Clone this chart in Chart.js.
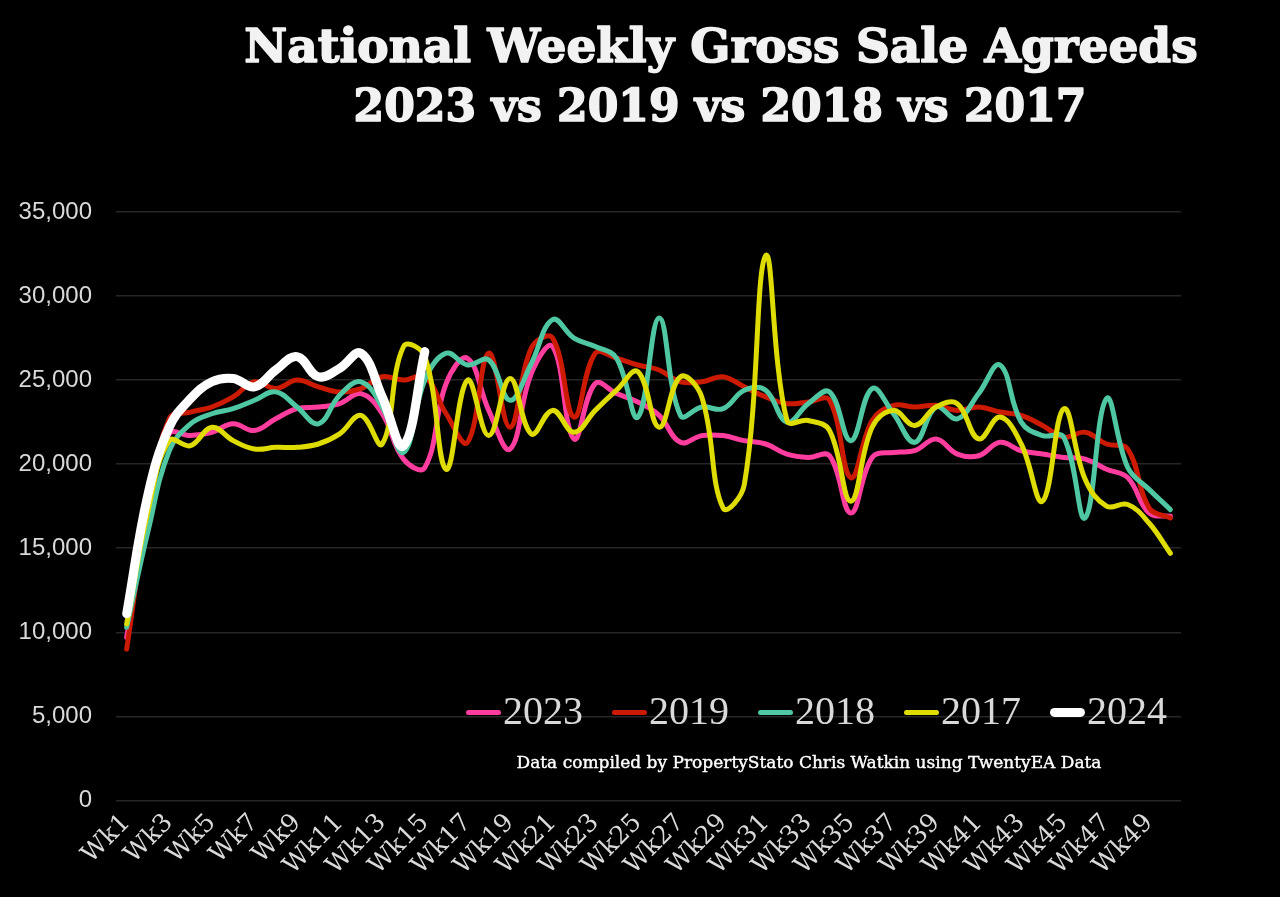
<!DOCTYPE html>
<html>
<head>
<meta charset="utf-8">
<title>National Weekly Gross Sale Agreeds</title>
<script src="https://cdn.jsdelivr.net/npm/chart.js@4.4.1/dist/chart.umd.min.js"></script>
<style>
  html, body { margin: 0; padding: 0; background: #000; }
  #wrap { width: 1280px; height: 897px; position: relative; }
</style>
</head>
<body>
<div id="wrap"><canvas id="sales-chart"></canvas></div>
<script>
// Week labels (x axis)
const weeks = [
  'Wk1','Wk2','Wk3','Wk4','Wk5','Wk6','Wk7','Wk8','Wk9','Wk10',
  'Wk11','Wk12','Wk13','Wk14','Wk15','Wk16','Wk17','Wk18','Wk19','Wk20',
  'Wk21','Wk22','Wk23','Wk24','Wk25','Wk26','Wk27','Wk28','Wk29','Wk30',
  'Wk31','Wk32','Wk33','Wk34','Wk35','Wk36','Wk37','Wk38','Wk39','Wk40',
  'Wk41','Wk42','Wk43','Wk44','Wk45','Wk46','Wk47','Wk48','Wk49','Wk50'
];

// Weekly gross sale agreeds
const sales2023 = [
  9700, 17000, 21800, 21700, 21900, 22400, 22000, 22700, 23300, 23400,
  23600, 24200, 23000, 20300, 19800, 24800, 26300, 23200, 20900, 25400,
  27000, 21500, 24800, 24200, 23700, 22900, 21300, 21700, 21700, 21400,
  21200, 20600, 20400, 20500, 17100, 20400, 20700, 20800, 21500, 20600,
  20500, 21300, 20800, 20600, 20400, 20300, 19700, 19200, 17100, 16900
];
const sales2019 = [
  9000, 17300, 22700, 23100, 23400, 24000, 24900, 24500, 25000, 24600,
  24300, 24500, 25200, 25000, 25200, 23000, 21300, 26600, 22200, 26900,
  27500, 22800, 26600, 26300, 25900, 25600, 24900, 24900, 25200, 24600,
  24000, 23600, 23700, 23800, 19200, 22600, 23500, 23400, 23500, 23200,
  23400, 23100, 22900, 22300, 21600, 21900, 21200, 20900, 17400, 16800
];
const sales2018 = [
  10300, 16000, 20800, 22400, 23000, 23300, 23800, 24300, 23400, 22400,
  24100, 24900, 23400, 20700, 25000, 26600, 25900, 26200, 23800, 26000,
  28600, 27500, 27000, 26300, 22800, 28700, 22900, 23400, 23300, 24400,
  24400, 22500, 23600, 24300, 21400, 24500, 23000, 21300, 23400, 22700,
  24200, 25900, 22500, 21700, 21600, 16800, 23900, 19800, 18500, 17300
];
const sales2017 = [
  10500, 17200, 21400, 21100, 22200, 21400, 20900, 21000, 21000, 21200,
  21800, 22900, 21200, 27000, 26400, 19700, 25000, 21700, 25100, 21800,
  23200, 21900, 23200, 24400, 25500, 22200, 25200, 24000, 17400, 18800,
  32400, 22600, 22600, 22000, 17800, 22200, 23200, 22300, 23400, 23600,
  21500, 22800, 21200, 17800, 23300, 19100, 17500, 17600, 16500, 14700
];
const sales2024 = [
  11100, 18200, 22200, 23900, 24900, 25100, 24600, 25600, 26400, 25200,
  25700, 26600, 24000, 21100, 26700
];

const yTicks = [0, 5000, 10000, 15000, 20000, 25000, 30000, 35000];

const titleLines = ['National Weekly Gross Sale Agreeds', '2023 vs 2019 vs 2018 vs 2017'];
const sourceNote = 'Data compiled by PropertyStato Chris Watkin using TwentyEA Data';

const labelGrey = '#d9d9d9';

function series(label, data, color, width, order) {
  return {
    label: label,
    data: data,
    borderColor: color,
    backgroundColor: color,
    borderWidth: width,
    borderCapStyle: 'round',
    borderJoinStyle: 'round',
    pointRadius: 0,
    pointHoverRadius: 0,
    tension: 0.4,
    fill: false,
    order: order
  };
}

// Title, in-plot legend and source note drawn straight on the canvas
const decorations = {
  id: 'decorations',
  afterDraw(chart) {
    const ctx = chart.ctx;
    const area = chart.chartArea;
    ctx.save();

    // title (stroked as well, to get closer to the heavy slab face)
    ctx.fillStyle = '#f2f2f2';
    ctx.strokeStyle = '#f2f2f2';
    ctx.lineWidth = 1.6;
    ctx.lineJoin = 'round';
    ctx.textAlign = 'center';
    ctx.textBaseline = 'alphabetic';
    ctx.font = 'bold 47px "DejaVu Serif", serif';
    ctx.fillText(titleLines[0], 721, 62);
    ctx.strokeText(titleLines[0], 721, 62);
    ctx.font = 'bold 44px "DejaVu Serif", serif';
    ctx.fillText(titleLines[1], 720, 121);
    ctx.strokeText(titleLines[1], 720, 121);

    // legend (bottom right, inside plot)
    ctx.font = '40px "Liberation Serif", serif';
    ctx.textAlign = 'left';
    const sampleW = 35;
    const gapAfterSample = 2;
    const itemGap = 29;
    const items = chart.data.datasets;
    let total = 0;
    items.forEach((ds, i) => {
      total += sampleW + gapAfterSample + ctx.measureText(ds.label).width;
      if (i < items.length - 1) total += itemGap;
    });
    let x = area.right - 14 - total;
    const ly = area.bottom - 88;
    items.forEach(ds => {
      ctx.strokeStyle = ds.borderColor;
      ctx.lineWidth = ds.borderWidth;
      ctx.lineCap = 'round';
      ctx.beginPath();
      ctx.moveTo(x + ds.borderWidth / 2, ly);
      ctx.lineTo(x + sampleW - ds.borderWidth / 2, ly);
      ctx.stroke();
      x += sampleW + gapAfterSample;
      ctx.fillStyle = labelGrey;
      ctx.fillText(ds.label, x, ly + 12);
      x += ctx.measureText(ds.label).width + itemGap;
    });

    // source note
    ctx.fillStyle = '#ffffff';
    ctx.strokeStyle = '#ffffff';
    ctx.lineWidth = 0.4;
    ctx.textAlign = 'center';
    ctx.font = '17px "DejaVu Serif", serif';
    ctx.fillText(sourceNote, 809, area.bottom - 32);
    ctx.strokeText(sourceNote, 809, area.bottom - 32);

    ctx.restore();
  }
};

document.addEventListener('DOMContentLoaded', () => {
  const canvas = document.getElementById('sales-chart');

  new Chart(canvas, {
    type: 'line',
    data: {
      labels: weeks,
      datasets: [
        series('2023', sales2023, '#ff3d9e', 5, 4),
        series('2019', sales2019, '#cc1a00', 5, 3),
        series('2018', sales2018, '#4fc7a2', 5, 2),
        series('2017', sales2017, '#dedc00', 5, 1),
        series('2024', sales2024, '#ffffff', 9, 0)
      ]
    },
    options: {
      responsive: true,
      maintainAspectRatio: false,
      animation: false,
      layout: {
        padding: { top: 212, left: 17, right: 99, bottom: 8 }
      },
      plugins: {
        legend: { display: false },
        title: { display: false },
        tooltip: { enabled: false }
      },
      scales: {
        x: {
          offset: true,
          grid: { display: false, drawTicks: false },
          border: { display: false },
          // rotated labels should not push the plot area inwards
          afterFit: axis => { axis.paddingLeft = 0; axis.paddingRight = 0; },
          ticks: {
            autoSkip: false,
            minRotation: 45,
            maxRotation: 45,
            padding: 8,
            color: labelGrey,
            font: { family: '"DejaVu Serif", serif', size: 25 },
            callback: (value, index) => (index % 2 === 0 ? weeks[index] : '')
          }
        },
        y: {
          min: yTicks[0],
          max: yTicks[yTicks.length - 1],
          afterBuildTicks: axis => { axis.ticks = yTicks.map(v => ({ value: v })); },
          afterFit: axis => { axis.width = 99; },
          grid: { color: '#262626', lineWidth: 1.5, drawTicks: false },
          border: { display: false },
          ticks: {
            padding: 24,
            color: labelGrey,
            font: { family: '"Liberation Sans", Arial, sans-serif', size: 24 },
            callback: v => v.toLocaleString('en-US')
          }
        }
      }
    },
    plugins: [decorations]
  });
});
</script>
</body>
</html>
